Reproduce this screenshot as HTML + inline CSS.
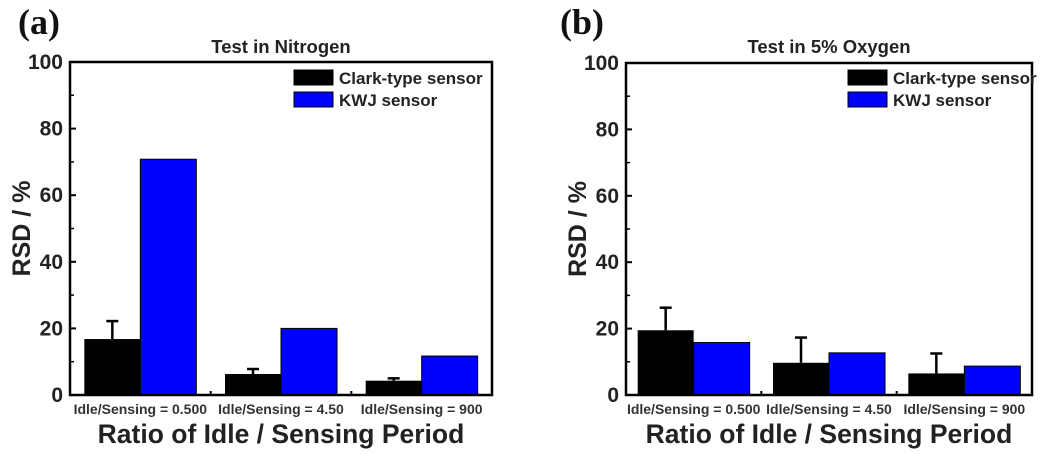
<!DOCTYPE html>
<html><head><meta charset="utf-8"><style>
html,body{margin:0;padding:0;background:#fff;width:1050px;height:455px;overflow:hidden}
text{font-family:"Liberation Sans",Arial,sans-serif;font-weight:bold}
</style></head><body>
<svg id="chart" width="1050" height="455" xmlns="http://www.w3.org/2000/svg"></svg>
<script>
const categories = ["Idle/Sensing = 0.500","Idle/Sensing = 4.50","Idle/Sensing = 900"];
const seriesNames = ["Clark-type sensor","KWJ sensor"];
const nitrogenClark = [16.8, 6.3, 4.3];
const nitrogenClarkErr = [5.4, 1.5, 0.7];
const nitrogenKWJ = [70.8, 20.0, 11.7];
const oxygenClark = [19.5, 9.7, 6.5];
const oxygenClarkErr = [6.8, 7.6, 6.0];
const oxygenKWJ = [15.8, 12.7, 8.7];
const yTicks = [0, 20, 40, 60, 80, 100];

const svg = document.getElementById('chart');
const NS = "http://www.w3.org/2000/svg";
function mk(tag, attrs, name, parent){
  const e = document.createElementNS(NS, tag);
  for (const k in attrs) e.setAttribute(k, attrs[k]);
  
  
  (parent||svg).appendChild(e); return e;
}
function panel(p){
  const g = mk('g', {}, p.id);
  const y = v => p.y1 - v / 100 * (p.y1 - p.y0);
  const cw = (p.x1 - p.x0) / 3, bw = 56;
  categories.forEach((c, i) => {
    const cx = p.x0 + (i + 0.5) * cw;
    mk('rect', {x: cx - bw, y: y(p.clark[i]), width: bw, height: y(0) - y(p.clark[i]), fill: '#000'}, 'bar-clark-' + (i+1), g);
    mk('rect', {x: cx, y: y(p.kwj[i]), width: bw, height: y(0) - y(p.kwj[i]), fill: '#0000ff', stroke:'#000','stroke-width':1}, 'bar-kwj-' + (i+1), g);
    const ex = cx - bw / 2, et = y(p.clark[i] + p.err[i]);
    mk('line', {x1: ex, x2: ex, y1: y(p.clark[i]), y2: et, stroke: '#000', 'stroke-width': 2.5}, 'error-bar-' + (i+1), g);
    mk('line', {x1: ex - 6, x2: ex + 6, y1: et, y2: et, stroke: '#000', 'stroke-width': 2.5}, 'error-cap-' + (i+1), g);
    const t = mk('text', {x: cx, y: p.y1 + 19, 'text-anchor': 'middle', 'font-size': 14, fill: '#333'}, 'x-tick-label', g);
    t.textContent = c;
    if (i > 0) mk('line', {x1: p.x0 + i * cw, x2: p.x0 + i * cw, y1: p.y1, y2: p.y1 - 4, stroke: '#000', 'stroke-width': 2}, 'x-tick', g);
  });
  mk('rect', {x: p.x0, y: p.y0, width: p.x1 - p.x0, height: p.y1 - p.y0, fill: 'none', stroke: '#000', 'stroke-width': 2.5}, 'plot-frame', g);
  yTicks.forEach(v => {
    mk('line', {x1: p.x0, x2: p.x0 + 6, y1: y(v), y2: y(v), stroke: '#000', 'stroke-width': 2}, 'y-tick', g);
    if (v < 100) mk('line', {x1: p.x0, x2: p.x0 + 4, y1: y(v + 10), y2: y(v + 10), stroke: '#000', 'stroke-width': 1.5}, 'y-minor-tick', g);
    const t = mk('text', {x: p.x0 - 7, y: y(v) + 7, 'text-anchor': 'end', 'font-size': 21, fill: '#222'}, 'y-tick-label', g);
    t.textContent = v;
  });
  const yt = mk('text', {x: 0, y: 0, 'text-anchor': 'middle', 'font-size': 25, fill: '#222', transform: `translate(${p.x0 - 40},${(p.y0 + p.y1) / 2}) rotate(-90)`}, 'y-axis-title', g);
  yt.textContent = 'RSD / %';
  const xt = mk('text', {x: (p.x0 + p.x1) / 2, y: 443, 'text-anchor': 'middle', 'font-size': 26.5, fill: '#222'}, 'x-axis-title', g);
  xt.textContent = 'Ratio of Idle / Sensing Period';
  const tt = mk('text', {x: (p.x0 + p.x1) / 2, y: 53, 'text-anchor': 'middle', 'font-size': 18.5, fill: '#222'}, 'chart-title', g);
  tt.textContent = p.title;
  const pl = mk('text', {x: p.lx, y: 34, 'font-size': 36, fill: '#111', style: 'font-family:"Liberation Serif",serif'}, 'panel-label', g);
  pl.textContent = p.label;
  const lg = mk('g', {}, 'legend', g);
  [['#000', seriesNames[0]], ['#0000ff', seriesNames[1]]].forEach((s, k) => {
    mk('rect', {x: p.legX, y: 70 + k * 22, width: 39, height: 15, fill: s[0], stroke:'#000','stroke-width':1}, 'legend-swatch', lg);
    const t = mk('text', {x: p.legX + 45, y: 84 + k * 22, 'font-size': 17, fill: '#222'}, 'legend-entry', lg);
    t.textContent = s[1];
  });
}
panel({id: 'panel-a', x0: 70, x1: 492, y0: 62, y1: 395, clark: nitrogenClark, err: nitrogenClarkErr, kwj: nitrogenKWJ, title: 'Test in Nitrogen', label: '(a)', lx: 18, legX: 294});
panel({id: 'panel-b', x0: 626, x1: 1032, y0: 63, y1: 395, clark: oxygenClark, err: oxygenClarkErr, kwj: oxygenKWJ, title: 'Test in 5% Oxygen', label: '(b)', lx: 560, legX: 848});
</script>
</body></html>
